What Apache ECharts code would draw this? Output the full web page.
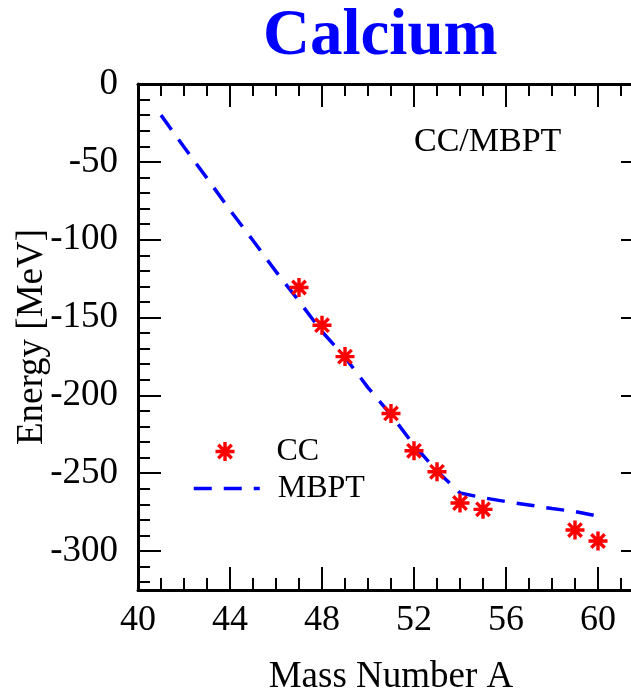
<!DOCTYPE html>
<html>
<head>
<meta charset="utf-8">
<script src="https://cdn.jsdelivr.net/npm/echarts@6/dist/echarts.min.js"></script>
<style>
  html, body { margin: 0; padding: 0; background: #ffffff; overflow: hidden; width: 631px; height: 691px; }
  #chart { width: 720px; height: 691px; }
</style>
</head>
<body>
<div id="chart"></div>
<script>
// ---- data ----
const chartTitle = 'Calcium';
const methodLabel = 'CC/MBPT';
const xAxisName = 'Mass Number A';
const yAxisName = 'Energy [MeV]';

const ccMass   = [47, 48, 49, 51, 52, 53, 54, 55, 59, 60];
const ccEnergy = [-130.7, -154.9, -175.1, -211.6, -235.6, -249.1, -269.1, -273.2, -286.5, -293.5];

const mbptMass   = [41, 42, 43, 44, 45, 46, 47, 48, 49, 50, 51, 52, 53, 54, 55, 56, 57, 58, 59, 60];
const mbptEnergy = [-20, -40.5, -60.5, -81, -100.5, -120.5, -139.5, -159, -175.5, -195, -212.5, -232, -248.5, -262.7, -265.7, -268.2, -270.4, -272.7, -274.6, -277.5];

const xRange = [40, 64];      // frame is at 62, just outside the visible window
const yRange = [-325, 0];
const yMajorRange = [-300, 0];
const yLowRange = [-320, -300];

// ---- styling ----
const FONT = '"Liberation Serif", "Times New Roman", serif';
const starPath = 'path://M8.2,0H11.8V20H8.2Z M0,8.2H20V11.8H0Z M4.2,1.66L18.34,15.8L15.8,18.34L1.66,4.2Z M15.8,1.66L18.34,4.2L4.2,18.34L1.66,15.8Z';

const pxPerUnitX = 23;
const pxPerUnitY = 506 / (yRange[1] - yRange[0]);
const plotLeft = 138, plotTop = 84, plotH = 506;
const frameW = (62 - xRange[0]) * pxPerUnitX;   // 40..62
const gridBH = (yMajorRange[1] - yMajorRange[0]) * pxPerUnitY;
const gridCTop = plotTop + (yRange[1] - yLowRange[1]) * pxPerUnitY;
const gridCH = (yLowRange[1] - yLowRange[0]) * pxPerUnitY;
// shift the x-axis name so it is centred on the 40..62 frame, not the 40..64 scale
const nameShift = ((xRange[1] - 62) * pxPerUnitX);

const tickLine = { color: '#000', width: 2 };
const axisLineStyle = { color: '#000', width: 3 };

const chart = echarts.init(document.getElementById('chart'), null, { renderer: 'canvas' });

const option = {
  backgroundColor: '#ffffff',
  animation: false,
  title: [
    {
      text: chartTitle, left: 263, top: 5, padding: 0,
      textStyle: { fontFamily: FONT, fontSize: 65, fontWeight: 'bold', color: '#0000ff' }
    },
    {
      text: methodLabel, left: 414, top: 125, padding: 0,
      textStyle: { fontFamily: FONT, fontSize: 34, fontWeight: 'normal', color: '#000' }
    }
  ],
  legend: [
    {
      data: ['CC'], orient: 'vertical', left: 215.5, top: 433, padding: 0,
      itemWidth: 19, itemHeight: 19,
      textStyle: { fontFamily: FONT, fontSize: 32, color: '#000', lineHeight: 37, padding: [0, 0, 0, 37] }
    },
    {
      data: ['MBPT'], orient: 'vertical', left: 192, top: 470, padding: 0,
      itemWidth: 66, itemHeight: 20,
      itemStyle: { color: 'rgba(0,0,0,0)', borderWidth: 0, opacity: 0 },
      lineStyle: { color: '#0000ff', width: 3.5, type: [18, 12] },
      textStyle: { fontFamily: FONT, fontSize: 32, color: '#000', lineHeight: 37, padding: [0, 0, 0, 13] }
    }
  ],
  grid: [
    { left: plotLeft, top: plotTop, width: (xRange[1] - xRange[0]) * pxPerUnitX, height: plotH, outerBoundsMode: 'none', containLabel: false },
    { left: plotLeft, top: plotTop, width: frameW, height: gridBH, outerBoundsMode: 'none', containLabel: false },
    { left: plotLeft, top: gridCTop, width: frameW, height: gridCH, outerBoundsMode: 'none', containLabel: false }
  ],
  xAxis: [
    {
      type: 'value', gridIndex: 0, position: 'bottom', min: xRange[0], max: xRange[1], interval: 4,
      name: xAxisName, nameLocation: 'middle', nameGap: 69,
      nameTextStyle: { fontFamily: FONT, fontSize: 37, color: '#000', padding: [0, nameShift, 0, 0] },
      axisLine: { show: true, onZero: false, lineStyle: axisLineStyle },
      axisTick: { show: true, inside: true, length: 23, lineStyle: tickLine },
      minorTick: { show: true, splitNumber: 4, length: 12, lineStyle: tickLine },
      axisLabel: { show: true, margin: 13, fontFamily: FONT, fontSize: 36, color: '#000', showMaxLabel: false },
      splitLine: { show: false }
    },
    {
      type: 'value', gridIndex: 0, position: 'top', min: xRange[0], max: xRange[1], interval: 4,
      axisLine: { show: true, onZero: false, lineStyle: axisLineStyle },
      axisTick: { show: true, inside: true, length: 23, lineStyle: tickLine },
      minorTick: { show: true, splitNumber: 4, length: 12, lineStyle: tickLine },
      axisLabel: { show: false },
      splitLine: { show: false }
    },
    { type: 'value', gridIndex: 1, show: false, min: xRange[0], max: 62 },
    { type: 'value', gridIndex: 2, show: false, min: xRange[0], max: 62 }
  ],
  yAxis: [
    {
      type: 'value', gridIndex: 0, position: 'left', min: yRange[0], max: yRange[1],
      name: yAxisName, nameLocation: 'middle', nameGap: 87, nameRotate: 90,
      nameTextStyle: { fontFamily: FONT, fontSize: 37, color: '#000' },
      axisLine: { show: true, onZero: false, lineStyle: axisLineStyle },
      axisTick: { show: false },
      minorTick: { show: false },
      axisLabel: { show: false },
      splitLine: { show: false }
    },
    {
      type: 'value', gridIndex: 1, position: 'left', min: yMajorRange[0], max: yMajorRange[1], interval: 50,
      axisLine: { show: false, onZero: false },
      axisTick: { show: true, inside: true, length: 23, lineStyle: tickLine },
      minorTick: { show: true, splitNumber: 5, length: 12, lineStyle: tickLine },
      axisLabel: { show: true, margin: 20, fontFamily: FONT, fontSize: 37, color: '#000' },
      splitLine: { show: false }
    },
    {
      type: 'value', gridIndex: 1, position: 'right', min: yMajorRange[0], max: yMajorRange[1], interval: 50,
      axisLine: { show: false, onZero: false },
      axisTick: { show: true, inside: true, length: 23, lineStyle: tickLine },
      minorTick: { show: true, splitNumber: 5, length: 12, lineStyle: tickLine },
      axisLabel: { show: false },
      splitLine: { show: false }
    },
    {
      type: 'value', gridIndex: 2, position: 'left', min: yLowRange[0], max: yLowRange[1], interval: 10,
      axisLine: { show: false, onZero: false },
      axisTick: { show: true, inside: true, length: 12, lineStyle: tickLine },
      axisLabel: { show: false },
      splitLine: { show: false }
    }
  ],
  series: [
    {
      name: 'MBPT', type: 'line', xAxisIndex: 0, yAxisIndex: 0,
      data: mbptMass.map((m, i) => [m, mbptEnergy[i]]),
      showSymbol: false, symbol: 'none', smooth: false,
      lineStyle: { color: '#0000ff', width: 3.5, type: [18, 12] },
      itemStyle: { color: '#0000ff' },
      z: 2
    },
    {
      name: 'CC', type: 'scatter', xAxisIndex: 0, yAxisIndex: 0,
      data: ccMass.map((m, i) => [m, ccEnergy[i]]),
      symbol: starPath, symbolSize: 19,
      itemStyle: { color: '#ff0000', opacity: 1 },
      z: 3
    }
  ]
};

chart.setOption(option);
</script>
</body>
</html>
